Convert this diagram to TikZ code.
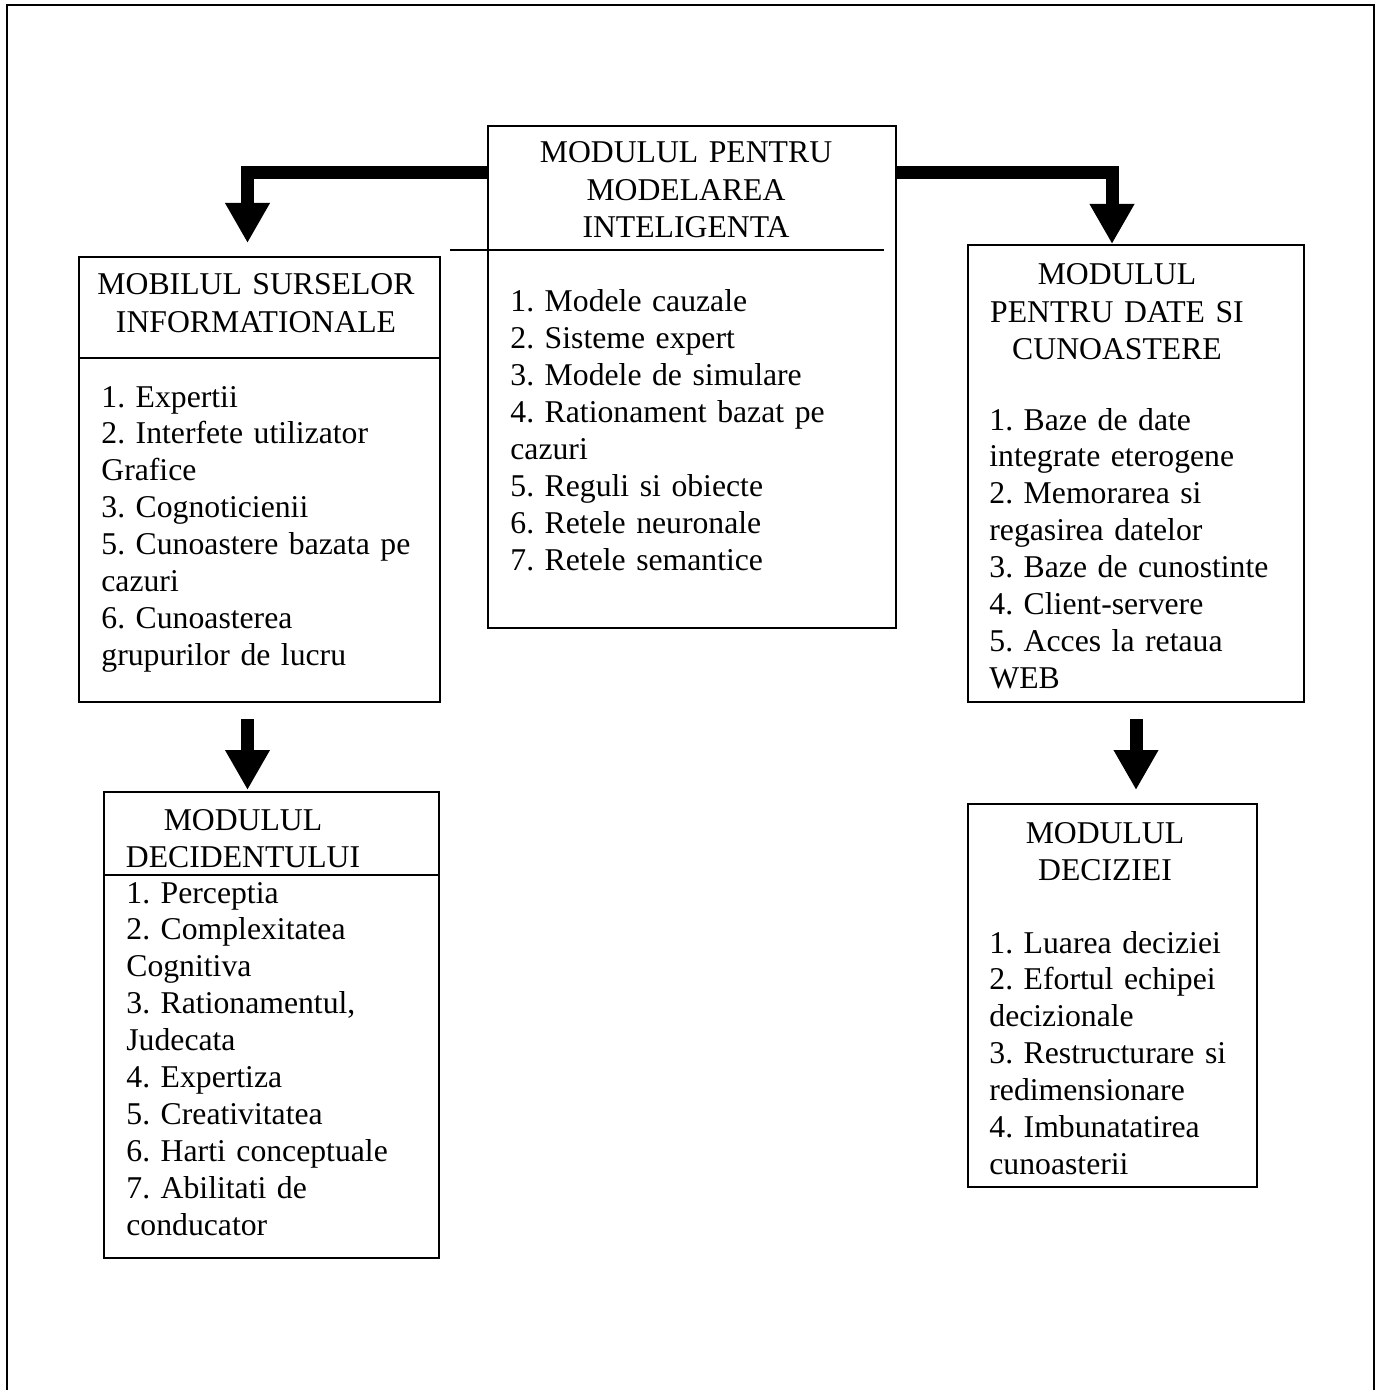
\documentclass[tikz,border=0pt]{standalone}
\usepackage{fontspec}
\setmainfont{Liberation Serif}
\usetikzlibrary{arrows.meta,fit}
\frenchspacing

\begin{document}
\begin{tikzpicture}[x=0.5pt,y=-0.5pt,
  box/.style={draw,line width=1pt,inner sep=0pt,outer sep=0pt},
  rule/.style={line width=1pt},
  frame/.style={line width=1.2pt},
  head/.style={font=\fontsize{15.85}{18.6}\selectfont,text width=200pt,align=center,inner sep=0pt,anchor=base},
  items/.style={font=\fontsize{15.85}{18.45}\selectfont,text width=200pt,align=left,inner sep=0pt,anchor=base west},
  bigarrow/.style={line width=6.5pt,line join=miter,-{Triangle[length=20pt,width=21pt]}}]

\useasboundingbox (0,0) rectangle (1377,1390);

% page frame, open at the bottom
\draw[frame] (7,1390) -- (7,5) -- (1374,5) -- (1374,1390);

% boxes
\node[box,fit={(488,126) (896,628)}] (mid) {};
\node[box,fit={(79,257) (440,702)}] (src) {};
\node[box,fit={(968,245) (1304,702)}] (date) {};
\node[box,fit={(104,792) (439,1258)}] (dec) {};
\node[box,fit={(968,804) (1257,1187)}] (decz) {};

% header separators
\coordinate (ymid) at (0,250);
\coordinate (ysrc) at (0,358);
\coordinate (ydec) at (0,875);
\draw[rule] ([xshift=-19pt]mid.west |- ymid) -- ([xshift=-6pt]mid.east |- ymid);
\draw[rule] (src.west |- ysrc) -- (src.east |- ysrc);
\draw[rule] (dec.west |- ydec) -- (dec.east |- ydec);

% central module
\node[head] (midh) at (686,163) {MODULUL PENTRU\\MODELAREA\\INTELIGENTA};
\node[items] (midi) at (510,312) {1. Modele cauzale\\2. Sisteme expert\\3. Modele de simulare\\4. Rationament bazat pe\\cazuri\\5. Reguli si obiecte\\6. Retele neuronale\\7. Retele semantice};

% information sources
\node[head] (srch) at (256,295) {MOBILUL SURSELOR\\INFORMATIONALE};
\node[items] (srci) at (101,407) {1. Expertii\\2. Interfete utilizator\\Grafice\\3. Cognoticienii\\5. Cunoastere bazata pe\\cazuri\\6. Cunoasterea\\grupurilor de lucru};

% data and knowledge
\node[head] (dateh) at (1117,285) {MODULUL\\PENTRU DATE SI\\CUNOASTERE};
\node[items] (datei) at (989,430) {1. Baze de date\\integrate eterogene\\2. Memorarea si\\regasirea datelor\\3. Baze de cunostinte\\4. Client-servere\\5. Acces la retaua\\WEB};

% decision maker
\node[head] (dech) at (243,830) {MODULUL\\DECIDENTULUI};
\node[items] (deci) at (126,903) {1. Perceptia\\2. Complexitatea\\Cognitiva\\3. Rationamentul,\\Judecata\\4. Expertiza\\5. Creativitatea\\6. Harti conceptuale\\7. Abilitati de\\conducator};

% decision
\node[head] (deczh) at (1105,843) {MODULUL\\DECIZIEI};
\node[items] (deczi) at (989,953) {1. Luarea deciziei\\2. Efortul echipei\\decizionale\\3. Restructurare si\\redimensionare\\4. Imbunatatirea\\cunoasterii};

% connectors
\draw[bigarrow] ([yshift=-23.5pt]mid.north west) -| ([xshift=-6pt,yshift=7pt]src.north);
\draw[bigarrow] ([yshift=-23.5pt]mid.north east) -| ([xshift=-12pt,yshift=0.5pt]date.north);
\draw[bigarrow] ([xshift=-6pt,yshift=-8.5pt]src.south) -- ([xshift=-6pt,yshift=1pt]src.south |- dec.north);
\draw[bigarrow] ([yshift=-8.5pt]date.south) -- ([yshift=7pt]date.south |- decz.north);
\end{tikzpicture}
\end{document}
